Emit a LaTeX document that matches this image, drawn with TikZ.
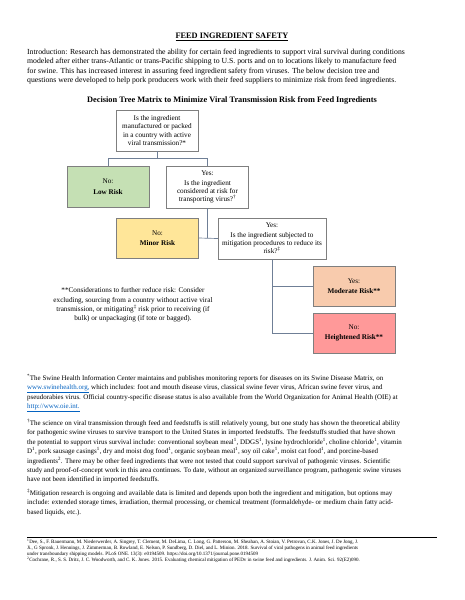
\documentclass[tikz,border=0pt]{standalone}
\usepackage{fontspec}
\setmainfont{Liberation Serif}
\usetikzlibrary{positioning}
\definecolor{lowgreen}{HTML}{C5E0B4}
\definecolor{minoryellow}{HTML}{FFE699}
\definecolor{moderatepeach}{HTML}{F8CBAD}
\definecolor{heightenedred}{HTML}{FF9999}
\definecolor{boxgrey}{HTML}{7F7F7F}
\definecolor{linkgrey}{HTML}{6F7F96}
\definecolor{urlblue}{HTML}{0563C1}
\newcommand{\boxfont}{\fontsize{9.5}{10.8}\selectfont}
\newcommand{\weblink}[1]{\textcolor{urlblue}{\underline{#1}}}

\begin{document}
\begin{tikzpicture}[x=1.32pt,y=-1.32pt,
		riskbox/.style={draw=boxgrey, line width=0.6pt, minimum width=108pt, minimum height=54pt, align=center, inner sep=2pt, font=\boxfont},
		link/.style={draw=linkgrey, line width=0.9pt},
		bodytext/.style={anchor=north west, inner sep=0pt, align=left}]
			%%%%% PAGE %%%%%
			\fill[white] (0,0) rectangle (464,600);
			\useasboundingbox (0,0) rectangle (464,600);
			
			\node[inner sep=0pt, font=\fontsize{11}{13}\selectfont\bfseries] (title) at (232,37) {\underline{FEED INGREDIENT SAFETY}};
			
			\node[bodytext, font=\fontsize{10.2}{12.6}\selectfont] (intro) at (27,48.5) {Introduction: Research has demonstrated the ability for certain feed ingredients to support viral survival during conditions\\
				modeled after either trans-Atlantic or trans-Pacific shipping to U.S. ports and on to locations likely to manufacture feed\\
				for swine. This has increased interest in assuring feed ingredient safety from viruses. The below decision tree and\\
				questions were developed to help pork producers work with their feed suppliers to minimize risk from feed ingredients.};
			
			\node[inner sep=0pt, font=\fontsize{11}{12}\selectfont\bfseries] (heading) at (232,100.5) {Decision Tree Matrix to Minimize Viral Transmission Risk from Feed Ingredients};
			
			%%%%% TREE %%%%%
			\node[riskbox] (origin) at (157,130.5) {Is the ingredient\\manufactured or packed\\in a country with active\\viral transmission?*};
			\node[riskbox, fill=lowgreen] (low) at (108,186.5) {No:\\[3pt]\textbf{Low Risk}};
			\node[riskbox, minimum height=55pt] (atrisk) at (207.5,187) {Yes:\\[2pt]Is the ingredient\\considered at risk for\\transporting virus?\textsuperscript{†}};
			\node[riskbox, fill=minoryellow, minimum height=53pt] (minor) at (157.5,238) {No:\\[3pt]\textbf{Minor Risk}};
			\node[riskbox, minimum width=142.5pt] (mitigated) at (272,238.5) {Yes:\\[2pt]Is the ingredient subjected to\\mitigation procedures to reduce its\\risk?\textsuperscript{‡}};
			\node[riskbox, fill=moderatepeach, minimum height=53pt] (moderate) at (354,286) {Yes:\\[3pt]\textbf{Moderate Risk**}};
			\node[riskbox, fill=heightenedred, minimum height=53pt] (heightened) at (354,333) {No:\\[3pt]\textbf{Heightened Risk**}};
			
			\coordinate (split) at (157,158);
			\draw[link] (origin.south) -- (split) -| (low.north);
			\draw[link] (split) -| (atrisk.north);
			\draw[link] (atrisk.south) -- (atrisk.south |- minor.east);
			\draw[link] (minor.east) -- (mitigated.west);
			\draw[link] (mitigated.south) |- (heightened.west);
			\draw[link] (mitigated.south |- moderate.west) -- (moderate.west);
			
			\node[inner sep=0pt, align=center, font=\fontsize{9.5}{12.4}\selectfont] (consider) at (133,305) {**Considerations to further reduce risk: Consider\\excluding, sourcing from a country without active viral\\transmission, or mitigating\textsuperscript{‡} risk prior to receiving (if\\bulk) or unpackaging (if tote or bagged).};
			
			%%%%% FOOTNOTES %%%%%
			\node[bodytext, font=\fontsize{9.2}{12.6}\selectfont] (noteA) at (27,374) {\textsuperscript{*}The Swine Health Information Center maintains and publishes monitoring reports for diseases on its Swine Disease Matrix, on\\
				\weblink{www.swinehealth.org,} which includes: foot and mouth disease virus, classical swine fever virus, African swine fever virus, and\\
				pseudorabies virus. Official country-specific disease status is also available from the World Organization for Animal Health (OIE) at\\
				\weblink{http://www.oie.int.}};
			
			\node[bodytext, font=\fontsize{9.2}{12.4}\selectfont] (noteB) at (27,419) {\textsuperscript{†}The science on viral transmission through feed and feedstuffs is still relatively young, but one study has shown the theoretical ability\\
				for pathogenic swine viruses to survive transport to the United States in imported feedstuffs. The feedstuffs studied that have shown\\
				the potential to support virus survival include: conventional soybean meal\textsuperscript{1}, DDGS\textsuperscript{1}, lysine hydrochloride\textsuperscript{1}, choline chloride\textsuperscript{1}, vitamin\\
				D\textsuperscript{1}, pork sausage casings\textsuperscript{1}, dry and moist dog food\textsuperscript{1}, organic soybean meal\textsuperscript{1}, soy oil cake\textsuperscript{1}, moist cat food\textsuperscript{1}, and porcine-based\\
				ingredients\textsuperscript{2}. There may be other feed ingredients that were not tested that could support survival of pathogenic viruses. Scientific\\
				study and proof-of-concept work in this area continues. To date, without an organized surveillance program, pathogenic swine viruses\\
				have not been identified in imported feedstuffs.};
			
			\node[bodytext, font=\fontsize{9.2}{12.6}\selectfont] (noteC) at (27,489) {\textsuperscript{‡}Mitigation research is ongoing and available data is limited and depends upon both the ingredient and mitigation, but options may\\
				include: extended storage times, irradiation, thermal processing, or chemical treatment (formaldehyde- or medium chain fatty acid-\\
				based liquids, etc.).};
			
			%%%%% REFERENCES %%%%%
			\draw[line width=0.5pt] (27,537) -- (437,537);
			
			\node[bodytext, font=\fontsize{6.6}{7.8}\selectfont] (refA) at (27,539) {\textsuperscript{1}Dee, S., F. Bauermann, M. Niederwerder, A. Singrey, T. Clement, M. DeLima, C. Long, G. Patterson, M. Sheahan, A. Stoian, V. Petrovan, C.K. Jones, J. De Jong, J.\\
				Ji., G Spronk, J. Hennings, J. Zimmerman, B. Rowland, E. Nelson, P. Sundberg, D. Diel, and L. Minion. 2018. Survival of viral pathogens in animal feed ingredients\\
				under transboundary shipping models. PLoS ONE. 13(3): e0194509. https://doi.org/10.1371/journal.pone.0194509};
			\node[bodytext, font=\fontsize{6.6}{7.8}\selectfont] (refB) at (27,557) {\textsuperscript{2}Cochrane, R., S. S. Dritz, J. C. Woodworth, and C. K. Jones. 2015. Evaluating chemical mitigation of PEDv in swine feed and ingredients. J. Anim. Sci. 92(E2)090.};
			
		\end{tikzpicture}
\end{document}
